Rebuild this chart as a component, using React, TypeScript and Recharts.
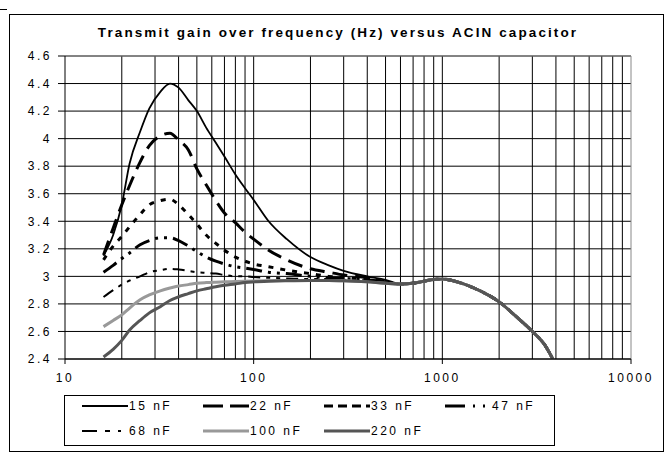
import { LineChart, Line, XAxis, YAxis, CartesianGrid, ReferenceLine } from 'recharts'

const freqs = [16, 18, 20, 22, 25, 28, 32, 36, 40, 45, 50, 56, 63, 70, 80, 90, 100, 120, 150, 200, 250, 300, 400, 500, 600, 700, 800, 900, 1000, 1200, 1500, 2000, 2500, 3000, 3500, 3850]

// common high-frequency tail (600 Hz and up), shared by every capacitor
const tail = [2.945, 2.95, 2.965, 2.978, 2.98, 2.96, 2.91, 2.815, 2.7, 2.6, 2.5, 2.4]

const nf15 = [3.15, 3.3, 3.52, 3.82, 4.05, 4.22, 4.34, 4.4, 4.37, 4.28, 4.2, 4.08, 3.97, 3.87, 3.74, 3.64, 3.555, 3.4, 3.27, 3.14, 3.08, 3.04, 3.0, 2.975, ...tail]
const nf22 = [3.155, 3.35, 3.52, 3.66, 3.83, 3.95, 4.02, 4.04, 3.99, 3.92, 3.78, 3.665, 3.55, 3.46, 3.39, 3.32, 3.27, 3.19, 3.12, 3.055, 3.03, 3.01, 2.99, 2.96, ...tail]
const nf33 = [3.12, 3.22, 3.29, 3.36, 3.45, 3.52, 3.55, 3.56, 3.52, 3.45, 3.38, 3.3, 3.24, 3.19, 3.14, 3.11, 3.09, 3.07, 3.045, 3.02, 3.0, 2.99, 2.98, 2.96, ...tail]
const nf47 = [3.03, 3.08, 3.13, 3.17, 3.23, 3.26, 3.28, 3.28, 3.26, 3.22, 3.18, 3.14, 3.11, 3.09, 3.07, 3.06, 3.05, 3.03, 3.02, 3.0, 2.99, 2.985, 2.975, 2.96, ...tail]
const nf68 = [2.85, 2.9, 2.94, 2.97, 3.0, 3.03, 3.045, 3.055, 3.05, 3.04, 3.03, 3.025, 3.02, 3.01, 3.0, 3.0, 2.995, 2.99, 2.985, 2.98, 2.98, 2.975, 2.97, 2.955, ...tail]
const nf100 = [2.635, 2.68, 2.72, 2.77, 2.83, 2.865, 2.895, 2.915, 2.93, 2.94, 2.95, 2.955, 2.958, 2.96, 2.963, 2.965, 2.966, 2.968, 2.97, 2.97, 2.97, 2.968, 2.96, 2.95, ...tail]
const nf220 = [2.415, 2.47, 2.535, 2.61, 2.68, 2.735, 2.78, 2.825, 2.852, 2.875, 2.895, 2.91, 2.925, 2.935, 2.945, 2.955, 2.96, 2.965, 2.968, 2.97, 2.97, 2.968, 2.96, 2.95, ...tail]

const yTicks = [2.4, 2.6, 2.8, 3, 3.2, 3.4, 3.6, 3.8, 4, 4.2, 4.4, 4.6]
const xTicks = [10, 100, 1000, 10000]

const series = [
  { key: 'nf15', name: '15 nF', values: nf15, color: '#000', width: 1.8, dash: undefined, legendDash: undefined },
  { key: 'nf22', name: '22 nF', values: nf22, color: '#000', width: 3, dash: '15 8', legendDash: '20 7' },
  { key: 'nf33', name: '33 nF', values: nf33, color: '#000', width: 3, dash: '5 7', legendDash: '9 5' },
  { key: 'nf47', name: '47 nF', values: nf47, color: '#000', width: 3, dash: '16 6 3 6 3 6', legendDash: '20 8 2 8 2 8' },
  { key: 'nf68', name: '68 nF', values: nf68, color: '#000', width: 2, dash: '12 6 4 6 4 6', legendDash: '15 8 5 8 3 8' },
  { key: 'nf100', name: '100 nF', values: nf100, color: '#999', width: 3, dash: undefined, legendDash: undefined },
  { key: 'nf220', name: '220 nF', values: nf220, color: '#555', width: 3, dash: undefined, legendDash: undefined },
]

const data = freqs.map((f, i) => {
  const row: Record<string, number> = { f }
  series.forEach(s => { row[s.key] = s.values[i] })
  return row
})

// log grid lines: 2..9 in each decade plus the decade lines
const gridLines: number[] = []
for (const d of [10, 100, 1000]) {
  for (let k = 2; k <= 10; k++) gridLines.push(k * d)
}

const font = '"Liberation Sans", Arial, sans-serif'
const tickStyle = { fill: '#000', fontSize: 12, fontFamily: font, letterSpacing: 2.5 }

function LegendItem({ s }: { s: typeof series[number] }) {
  return (
    <div style={{ display: 'flex', alignItems: 'center', width: 121 }}>
      <svg width={46} height={10}>
        <line x1={0} y1={5} x2={46} y2={5} stroke={s.color} strokeWidth={s.width} strokeDasharray={s.legendDash} />
      </svg>
      <span style={{ fontSize: 12, letterSpacing: 2.5, marginLeft: 1 }}>{s.name}</span>
    </div>
  )
}

export default function App() {
  return (
    <div style={{ position: 'absolute', left: 0, top: 0, width: 666, height: 452, background: '#fff', fontFamily: font }}>
      <div style={{ position: 'absolute', left: 0, top: 9, width: 7, height: 1, background: '#000' }} />
      <div style={{ position: 'absolute', left: 9, top: 14, width: 653, height: 436, border: '1px solid #000' }} />
      <div style={{ position: 'absolute', left: 0, top: 25, width: 676, textAlign: 'center', fontSize: 13.5, fontWeight: 'bold', letterSpacing: 2.1 }}>
        Transmit gain over frequency (Hz) versus ACIN capacitor
      </div>
      <LineChart width={666} height={452} data={data} margin={{ top: 56, right: 35, bottom: 63, left: 0 }} style={{ position: 'absolute', left: 0, top: 0 }}>
        <CartesianGrid vertical={false} stroke="#000" strokeWidth={1} />
        {gridLines.map(g => (
          <ReferenceLine key={g} x={g} stroke={g === 10000 ? '#888' : '#000'} strokeWidth={1} />
        ))}
        <ReferenceLine y={4.6} stroke="#888" strokeWidth={1} />
        <XAxis
          dataKey="f"
          type="number"
          scale="log"
          domain={[10, 10000]}
          ticks={xTicks}
          allowDataOverflow
          stroke="#000"
          tickSize={5}
          tickMargin={9}
          height={30}
          tick={tickStyle}
        />
        <YAxis
          type="number"
          domain={[2.4, 4.6]}
          ticks={yTicks}
          allowDataOverflow
          stroke="#000"
          width={65}
          tickSize={7}
          tickMargin={6}
          tick={tickStyle}
          tickFormatter={(v: number) => String(Number(v.toFixed(1)))}
        />
        {series.map(s => (
          <Line
            key={s.key}
            dataKey={s.key}
            type="monotone"
            stroke={s.color}
            strokeWidth={s.width}
            strokeDasharray={s.dash}
            dot={false}
            isAnimationActive={false}
          />
        ))}
      </LineChart>
      <div style={{ position: 'absolute', left: 64, top: 395, width: 491, height: 51, border: '1px solid #000', boxSizing: 'border-box', background: '#fff' }}>
        <div style={{ position: 'absolute', left: 17, top: 3, display: 'flex' }}>
          {series.slice(0, 4).map(s => <LegendItem key={s.key} s={s} />)}
        </div>
        <div style={{ position: 'absolute', left: 17, top: 28, display: 'flex' }}>
          {series.slice(4).map(s => <LegendItem key={s.key} s={s} />)}
        </div>
      </div>
    </div>
  )
}
